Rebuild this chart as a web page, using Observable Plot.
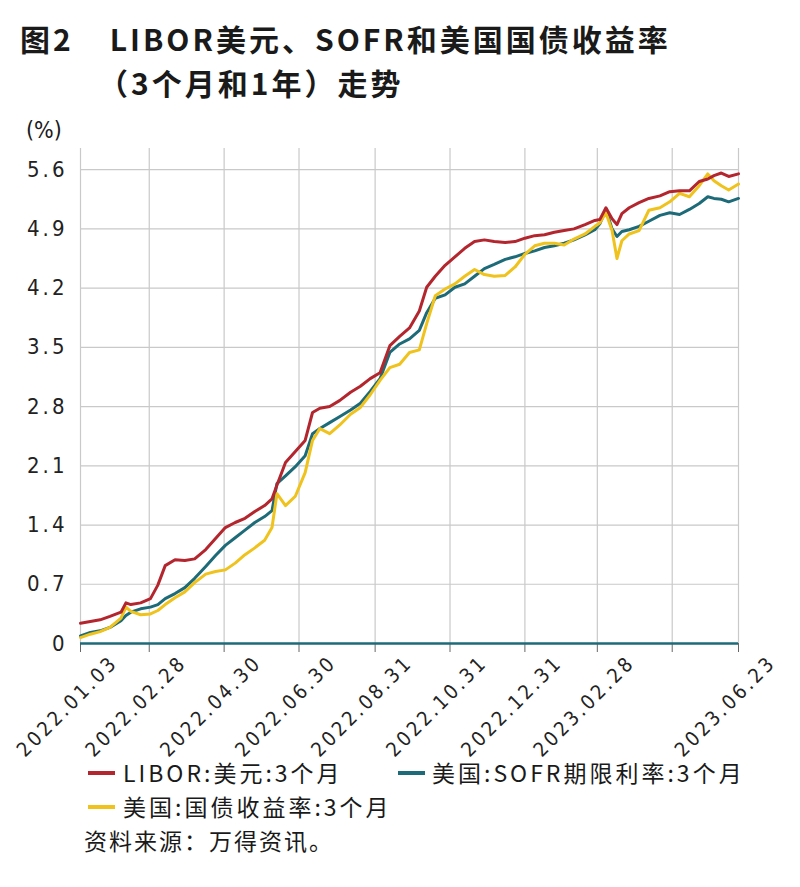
<!DOCTYPE html>
<html><head><meta charset="utf-8">
<script src="https://cdn.jsdelivr.net/npm/d3@7"></script>
<script src="https://cdn.jsdelivr.net/npm/@observablehq/plot@0.6"></script>
<style>
body{margin:0;background:#fff;}
#wrap{position:relative;width:800px;height:887px;font-family:"Noto Sans CJK SC",sans-serif;color:#1a1a1a;overflow:hidden;}
.abs{position:absolute;white-space:nowrap;}
.title{font-size:30px;font-weight:700;line-height:44px;letter-spacing:3px;}
.leg{font-size:23px;line-height:26px;letter-spacing:3px;}
.sw{position:absolute;height:4px;width:27px;}
#chart{position:absolute;left:0;top:100px;}
[aria-label="x-axis tick label"] text{letter-spacing:3px;}
[aria-label="y-axis tick label"] text{letter-spacing:3px;}
</style></head><body>
<div id="wrap">
  <div class="abs title" style="left:20px;top:16px;">图2<span style="margin-left:36px">LIBOR美元、SOFR和美国国债收益率</span><br><span style="margin-left:78px">（3个月和1年）走势</span></div>
  <div class="abs" style="left:26px;top:116px;font-size:23px;line-height:28px;font-family:'DejaVu Sans Condensed','DejaVu Sans',sans-serif;">(%)</div>
  <div id="chart"></div>
  <div id="legend"></div>
  <div class="abs" style="left:84px;top:827px;font-size:23px;line-height:26px;letter-spacing:2px;">资料来源：万得资讯。</div>
</div>
<script>
const dates = ["2022-01-03","2022-01-11","2022-01-19","2022-01-27","2022-02-05","2022-02-09","2022-02-13","2022-02-21","2022-03-01","2022-03-07","2022-03-13","2022-03-21","2022-03-29","2022-04-06","2022-04-15","2022-04-23","2022-05-01","2022-05-09","2022-05-17","2022-05-25","2022-06-02","2022-06-08","2022-06-12","2022-06-19","2022-06-27","2022-07-05","2022-07-11","2022-07-17","2022-07-25","2022-08-02","2022-08-11","2022-08-19","2022-08-27","2022-09-04","2022-09-12","2022-09-20","2022-09-28","2022-10-06","2022-10-12","2022-10-19","2022-10-27","2022-11-04","2022-11-12","2022-11-20","2022-11-28","2022-12-06","2022-12-15","2022-12-23","2022-12-31","2023-01-08","2023-01-16","2023-01-24","2023-02-01","2023-02-09","2023-02-18","2023-02-26","2023-03-02","2023-03-07","2023-03-12","2023-03-16","2023-03-20","2023-03-26","2023-04-03","2023-04-11","2023-04-20","2023-04-28","2023-05-06","2023-05-14","2023-05-22","2023-05-29","2023-06-03","2023-06-09","2023-06-15","2023-06-23"];

const libor = [0.24,0.26,0.28,0.32,0.37,0.48,0.46,0.48,0.53,0.69, 0.92,0.99,0.98,1.00,1.11,1.24,1.37,1.43,1.48,1.56, 1.63,1.71,1.87,2.14,2.27,2.40,2.73,2.78,2.80,2.87, 2.97,3.04,3.13,3.20,3.52,3.63,3.73,3.93,4.21,4.34, 4.47,4.57,4.67,4.75,4.77,4.75,4.74,4.75,4.79,4.82, 4.83,4.86,4.88,4.90,4.95,5.00,5.01,5.15,5.02,4.95, 5.08,5.15,5.21,5.26,5.29,5.34,5.35,5.35,5.46,5.49, 5.53,5.56,5.52,5.55];

const sofr = [0.09,0.13,0.15,0.19,0.27,0.33,0.37,0.41,0.43,0.46, 0.53,0.59,0.66,0.77,0.91,1.04,1.16,1.25,1.34,1.43, 1.50,1.57,1.89,1.98,2.09,2.22,2.48,2.54,2.61,2.68, 2.76,2.84,2.98,3.13,3.44,3.54,3.60,3.70,3.91,4.08, 4.12,4.21,4.25,4.34,4.43,4.48,4.54,4.57,4.61,4.64, 4.68,4.70,4.73,4.77,4.83,4.89,4.96,5.13,4.90,4.81, 4.87,4.89,4.93,4.99,5.06,5.09,5.07,5.13,5.20,5.28, 5.26,5.25,5.22,5.26];

const treasury = [0.07,0.11,0.14,0.19,0.30,0.43,0.38,0.34,0.35,0.39, 0.46,0.54,0.61,0.72,0.82,0.85,0.87,0.95,1.05,1.13, 1.22,1.37,1.77,1.63,1.74,2.02,2.40,2.54,2.48,2.58, 2.71,2.79,2.94,3.11,3.26,3.30,3.44,3.47,3.78,4.11, 4.19,4.25,4.34,4.42,4.36,4.34,4.35,4.45,4.60,4.70, 4.73,4.73,4.71,4.78,4.84,4.93,4.97,5.09,4.88,4.55, 4.76,4.84,4.88,5.12,5.15,5.22,5.32,5.28,5.41,5.55, 5.47,5.41,5.36,5.43];

const seriesNames = ["LIBOR:美元:3个月","美国:SOFR期限利率:3个月","美国:国债收益率:3个月"];
const seriesColors = ["#b3262e","#1d6b78","#efc21c"];

const tickDates = ["2022-01-03","2022-02-28","2022-04-30","2022-06-30","2022-08-31","2022-10-31","2022-12-31","2023-02-28","2023-04-30","2023-06-23"];
const tickLabels = ["2022.01.03","2022.02.28","2022.04.30","2022.06.30","2022.08.31","2022.10.31","2022.12.31","2023.02.28","","2023.06.23"];
const yTicks = [0,0.7,1.4,2.1,2.8,3.5,4.2,4.9,5.6];
const yTickLabels = ["0","0.7","1.4","2.1","2.8","3.5","4.2","4.9","5.6"];

const parse = d3.utcParse("%Y-%m-%d");
const tickDateObjs = tickDates.map(parse);
const xLabelMap = new Map(tickDateObjs.map((d,i)=>[+d, tickLabels[i]]));
const yLabelMap = new Map(yTicks.map((v,i)=>[v, yTickLabels[i]]));

const valueSets = [libor, sofr, treasury];
const rows = [];
[1,2,0].forEach(s => {
  dates.forEach((d,i) => rows.push({date: parse(d), value: valueSets[s][i], series: seriesNames[s]}));
});

const svg = Plot.plot({
  width: 800, height: 660,
  marginLeft: 80, marginRight: 62, marginTop: 48, marginBottom: 117,
  style: {fontFamily: '"DejaVu Sans Condensed","DejaVu Sans",sans-serif', color: "#222", background: "transparent", overflow: "visible"},
  x: {type: "utc", domain: [parse(dates[0]), parse(dates[dates.length-1])]},
  y: {domain: [0, 5.85]},
  color: {domain: seriesNames, range: seriesColors},
  marks: [
    Plot.gridX({ticks: tickDateObjs, stroke: "#c9c9c9", strokeOpacity: 1, strokeWidth: 1.2}),
    Plot.gridY({ticks: yTicks, stroke: "#c9c9c9", strokeOpacity: 1, strokeWidth: 1.2}),
    Plot.axisY({ticks: yTicks, tickSize: 0, tickPadding: 13, tickFormat: v => yLabelMap.get(v), fontSize: 22, label: null}),
    Plot.axisX({ticks: tickDateObjs, tickSize: 9, tickFormat: () => "", label: null, stroke: "#666"}),
    Plot.axisX({ticks: tickDateObjs, tickSize: 0, tickRotate: -45, tickFormat: d => xLabelMap.get(+d), fontSize: 20, dx: 34, dy: 4, label: null}),
    Plot.ruleY([0], {stroke: seriesColors[1], strokeWidth: 2.5}),
    Plot.line(rows, {x: "date", y: "value", z: "series", stroke: "series", strokeWidth: 3, curve: "linear"})
  ]
});
document.getElementById("chart").appendChild(svg);

// legend
const legend = document.getElementById("legend");
const legPos = [[88,123,759],[398,432,759],[88,123,793]];
seriesNames.forEach((name,i) => {
  const [sx, tx, ty] = legPos[i];
  const sw = document.createElement("div");
  sw.className = "sw";
  sw.style.left = sx + "px"; sw.style.top = (ty + 12) + "px"; sw.style.background = seriesColors[i];
  legend.appendChild(sw);
  const t = document.createElement("div");
  t.className = "abs leg";
  t.style.left = tx + "px"; t.style.top = ty + "px";
  t.textContent = name;
  legend.appendChild(t);
});
</script>
</body></html>
